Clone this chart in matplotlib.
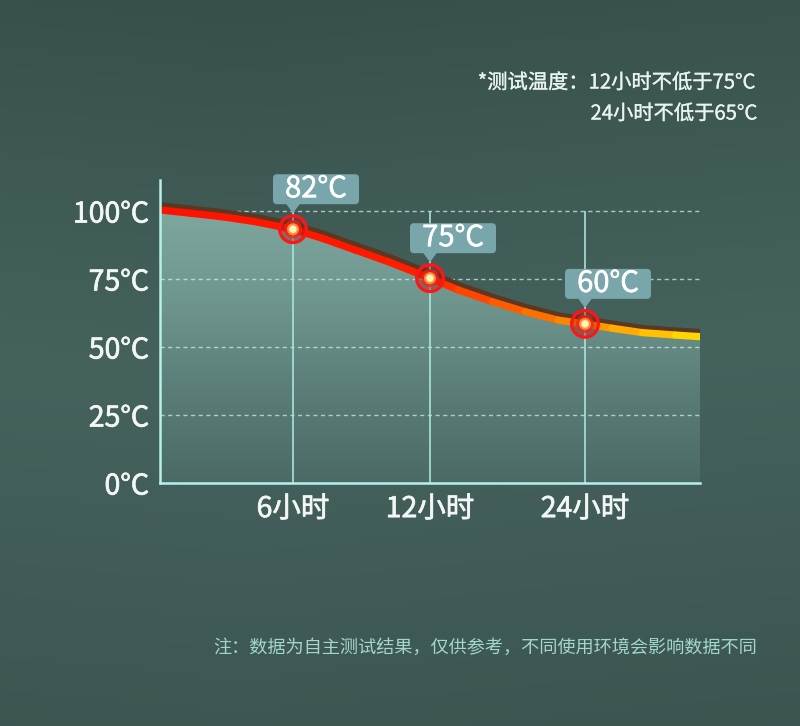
import numpy as np
import matplotlib
matplotlib.use('Agg')
import matplotlib.pyplot as plt
import matplotlib.patheffects as pe
from matplotlib.collections import LineCollection
from matplotlib.colors import LinearSegmentedColormap
from matplotlib.patches import Polygon, FancyBboxPatch
from matplotlib.transforms import IdentityTransform, offset_copy

plt.rcParams['font.family'] = ['Noto Sans CJK SC', 'DejaVu Sans']

# curve (x = position along the axis, y = °C)
curve_x = [0, 30, 62, 95, 133, 162, 195, 228, 270, 298, 332, 365, 398, 425, 452, 482, 515, 540]
curve_y = [100.4, 99.2, 97.9, 96.1, 93.3, 90.0, 85.7, 81.4, 75.3, 71.0, 66.7, 63.0, 59.9, 58.5, 56.9, 55.3, 54.4, 53.8]

tick_pos = [133, 270, 425]
tick_labels = ['6小时', '12小时', '24小时']
point_y = [93.3, 75.3, 58.5]
point_labels = ['82°C', '75°C', '60°C']
y_ticks = [0, 25, 50, 75, 100]
y_labels = ['0°C', '25°C', '50°C', '75°C', '100°C']

W, H = 800, 726
fig = plt.figure(figsize=(8, 7.26), dpi=100)

def thick(color, w=0.7):
    return [pe.withStroke(linewidth=w, foreground=color)]

# background gradient
bg = fig.add_axes([0, 0, 1, 1])
bg.set_axis_off()
bg_cmap = LinearSegmentedColormap.from_list('bg', ['#36504b', '#3f5a55', '#45625d', '#415c58', '#3b5551'])
gy = np.linspace(0, 1, 256).reshape(-1, 1)
gx = np.linspace(0, 1, 256).reshape(1, -1)
grad = gy * 0.9 + 0.1 * np.abs(gx - 0.3)
bg.imshow(grad, aspect='auto', cmap=bg_cmap, extent=[0, 1, 0, 1], origin='upper')
bg.set_xlim(0, 1)
bg.set_ylim(0, 1)

ax = fig.add_axes([160 / W, (H - 483) / H, 540 / W, 303 / H])
ax.set_facecolor('none')

for s in ['top', 'right']:
    ax.spines[s].set_visible(False)
for s in ['left', 'bottom']:
    ax.spines[s].set_color('#b4f2ea')
    ax.spines[s].set_linewidth(1.8)
    ax.spines[s].set_zorder(6)

ax.set_yticks(y_ticks)
ax.set_yticklabels(y_labels)
ax.set_xticks(tick_pos)
ax.set_xticklabels(tick_labels)
ax.tick_params(length=0, colors='#f2f7f5', labelsize=20.5)
ax.tick_params(axis='y', pad=8)
ax.tick_params(axis='x', pad=8)
for t in ax.get_xticklabels() + ax.get_yticklabels():
    t.set_path_effects(thick('#f2f7f5', 0.5))

# fill under the curve with vertical gradient
fill_cmap = LinearSegmentedColormap.from_list('fill', ['#4b6a66', '#5a7d77', '#6f968e', '#80a79e'])
fimg = ax.imshow(np.linspace(0, 1, 256).reshape(-1, 1), aspect='auto', cmap=fill_cmap,
                 extent=[0, 540, 0, 101], origin='lower', zorder=1)
poly = Polygon(list(zip(curve_x, curve_y)) + [(540, 0), (0, 0)], closed=True,
               transform=ax.transData, facecolor='none', edgecolor='none')
ax.add_patch(poly)
fimg.set_clip_path(poly)
ax.set_xlim(0, 540)
ax.set_ylim(0, 111.4)

# grid
for v in y_ticks[1:]:
    ax.axhline(v, color='#cdeee6', lw=1, ls=(0, (3, 2.5)), alpha=0.75, zorder=2)
ax.vlines(tick_pos, 0, 100, color='#a9e3da', lw=1.2, zorder=2)

# brown shadow line
shadow_tr = offset_copy(ax.transData, fig=fig, x=1.5, y=4, units='dots')
ax.plot(curve_x, curve_y, color='#5b3821', lw=5.2, solid_capstyle='butt',
        transform=shadow_tr, zorder=3)

# gradient coloured line
line_cmap = LinearSegmentedColormap.from_list('line', [
    (0.0, '#ff1200'), (0.45, '#ff1a00'), (0.6, '#ff4a00'),
    (0.75, '#ff8000'), (0.88, '#ffb000'), (1.0, '#ffdd00')])
pts = np.array([curve_x, curve_y]).T.reshape(-1, 1, 2)
segs = np.concatenate([pts[:-1], pts[1:]], axis=1)
mid = (np.array(curve_x[:-1]) + np.array(curve_x[1:])) / 2 / 540
lc = LineCollection(segs, colors=line_cmap(mid), linewidths=5.2, capstyle='round',
                    joinstyle='round', zorder=4)
ax.add_collection(lc)

# markers
ax.scatter(tick_pos, point_y, s=330, facecolor='#a01818', alpha=0.4, edgecolor='none', zorder=5)
ax.scatter(tick_pos, point_y, s=370, facecolor='none', edgecolor='#ff1515', linewidth=2.3, zorder=6)
ax.scatter(tick_pos, point_y, s=170, facecolor='#ff2010', alpha=0.75, edgecolor='none', zorder=6)
ax.scatter(tick_pos, point_y, s=75, facecolor='#ff8a40', edgecolor='none', zorder=7)
ax.scatter(tick_pos, point_y, s=30, facecolor='#fff4b0', edgecolor='none', zorder=8)

# value callouts
fig.canvas.draw()
ident = IdentityTransform()
for xp, yp, lab in zip(tick_pos, point_y, point_labels):
    px, py = ax.transData.transform((xp, yp))
    bx0, bx1 = px - 20, px + 66
    by0, by1 = py + 25, py + 55
    box = FancyBboxPatch((bx0, by0), bx1 - bx0, by1 - by0,
                         boxstyle='round,pad=0,rounding_size=4',
                         facecolor='#78a6aa', edgecolor='none', transform=ident, zorder=9)
    fig.add_artist(box)
    tri = Polygon([(px - 7, by0 + 0.5), (px + 7, by0 + 0.5), (px, by0 - 9)], closed=True,
                  facecolor='#78a6aa', edgecolor='none', transform=ident, zorder=9)
    fig.add_artist(tri)
    fig.text((bx0 + bx1) / 2 / W, (by0 + by1) / 2 / H, lab, ha='center', va='center',
             color='white', fontsize=21, zorder=10, path_effects=thick('white', 0.4))

# notes
fig.text(755 / W, 1 - 83 / H, '*测试温度：12小时不低于75°C', ha='right', va='center',
         color='#e9f3f0', fontsize=14.6, path_effects=thick('#e9f3f0', 0.2))
fig.text(757 / W, 1 - 114 / H, '24小时不低于65°C', ha='right', va='center',
         color='#e9f3f0', fontsize=14.6, path_effects=thick('#e9f3f0', 0.2))
fig.text(757 / W, 1 - 648 / H, '注：数据为自主测试结果，仅供参考，不同使用环境会影响数据不同',
         ha='right', va='center', color='#a3d6cd', fontsize=13.1)

fig.savefig('out.png', dpi=100)
